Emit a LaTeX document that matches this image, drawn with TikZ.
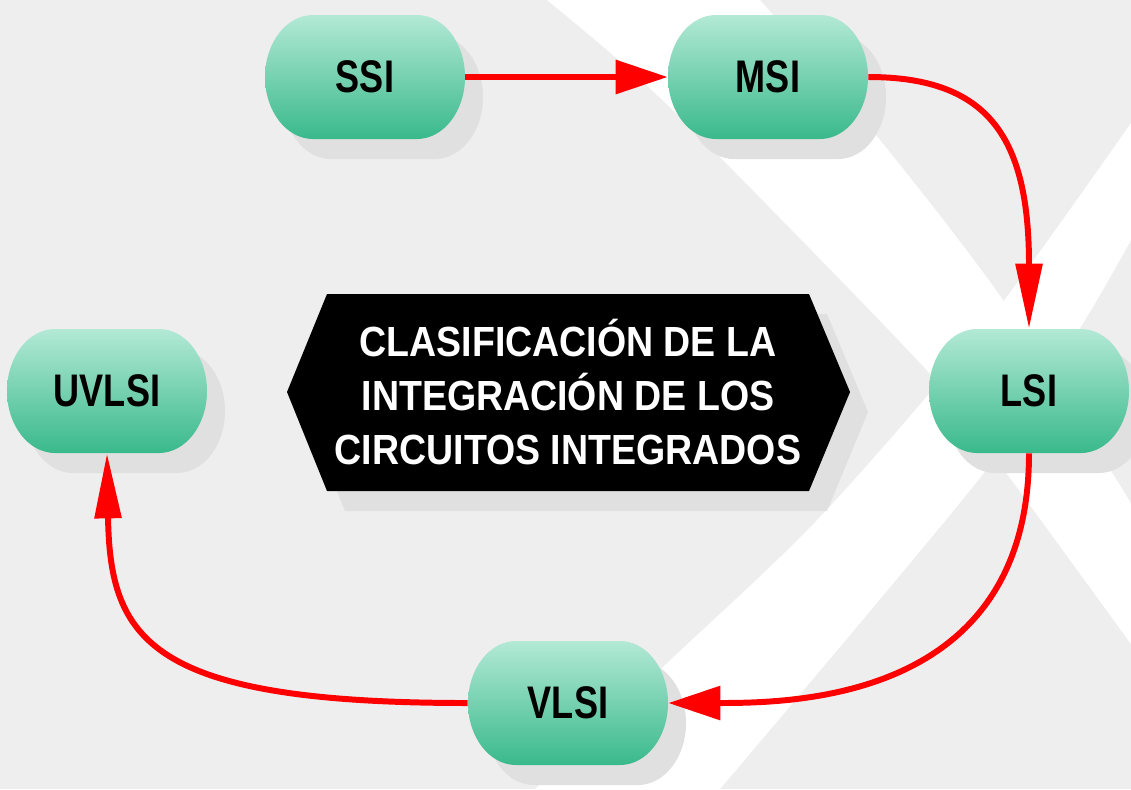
\documentclass[tikz,border=0pt]{standalone}
\usepackage{fontspec}
\setmainfont{Liberation Sans}
\newfontfamily\chipfont[FakeStretch=0.79]{Liberation Sans}
\newfontfamily\titlefont[FakeStretch=0.89]{Liberation Sans}
\usetikzlibrary{arrows.meta}

\definecolor{backgray}{HTML}{EEEEEE}
\definecolor{dropgray}{HTML}{E0E0E0}
\definecolor{chiptop}{HTML}{B3E9D6}
\definecolor{chipbot}{HTML}{39B98C}

\tikzstyle{band}=[fill=white]
\tikzstyle{dropshade}=[fill=dropgray]
\tikzstyle{chipshade}=[top color=chiptop,bottom color=chipbot]
\tikzstyle{chip}=[rectangle,minimum width=4cm,minimum height=2.48cm,inner sep=0pt,
  font=\chipfont\bfseries\fontsize{26}{30}\selectfont]
\tikzstyle{title}=[text=white,align=center,inner sep=0pt,
  font=\titlefont\bfseries\fontsize{24}{30.7}\selectfont]
\tikzstyle{flow}=[draw=red,line width=3.4pt]
\tikzstyle{hhead}=[-{Triangle[length=29.6pt,width=18.8pt]}]
\tikzstyle{vhead}=[-{Triangle[length=37pt,width=14.8pt]}]

\begin{document}
\begin{tikzpicture}[x=0.02cm,y=-0.02cm]
% Background and white bands
   \fill[backgray] (0,0) rectangle (1131,789);
   \useasboundingbox (0,0) rectangle (1131,789);
   \fill[band] plot[smooth] coordinates {(547,0) (630,70) (720,157) (933,377) (1007,474) (1131,644)}
      -- plot[smooth] coordinates {(1131,504) (1113,474) (1003,300) (880,140) (760,0)} -- cycle;
   \fill[band] plot[smooth] coordinates {(535,789) (663,667) (820,517) (983,328) (1131,123)}
      -- plot[smooth] coordinates {(1131,240) (1080,328) (983,474) (720,789)} -- cycle;

% Title hexagon
   \fill[dropshade,shift={(18,20)}] (287,392) -- (327,294) -- (809,294) -- (850,392)
      -- (809,491) -- (327,491) -- cycle;
   \fill[black] (287,392) -- (327,294) -- (809,294) -- (850,392) -- (809,491) -- (327,491) -- cycle;
   \node[title] (title) at (568,392) {CLASIFICACIÓN DE LA\\INTEGRACIÓN DE LOS\\CIRCUITOS INTEGRADOS};

% Integration levels
   \foreach \name/\cx/\cy/\txt in {ssi/365/77/SSI,msi/768/77/MSI,lsi/1029/391/LSI,
      vlsi/568/703/VLSI,uvlsi/107/391/UVLSI}{
      \fill[dropshade] ({\cx-34},{\cy-42}) -- ++(104,0) arc[start angle=-90,end angle=90,x radius=48,y radius=62]
         -- ++(-104,0) arc[start angle=90,end angle=270,x radius=48,y radius=62] -- cycle;
      \shade[chipshade] ({\cx-52},{\cy-62}) -- ++(104,0) arc[start angle=-90,end angle=90,x radius=48,y radius=62]
         -- ++(-104,0) arc[start angle=90,end angle=270,x radius=48,y radius=62] -- cycle;
      \node[chip] (\name) at (\cx,\cy) {\txt};
   }

% Arrows
   \draw[flow,hhead] (ssi) -- (msi);
   \draw[flow,vhead] (msi.east) .. controls +(122,0) and +(0,-189) .. (lsi.north);
   \draw[flow,hhead] (lsi.south) .. controls +(0,245) and +(130,0) .. (vlsi.east);
   \draw[flow,vhead] (vlsi.west) .. controls +(-318,0) and +(3,187) .. (uvlsi.south);

\end{tikzpicture}
\end{document}
